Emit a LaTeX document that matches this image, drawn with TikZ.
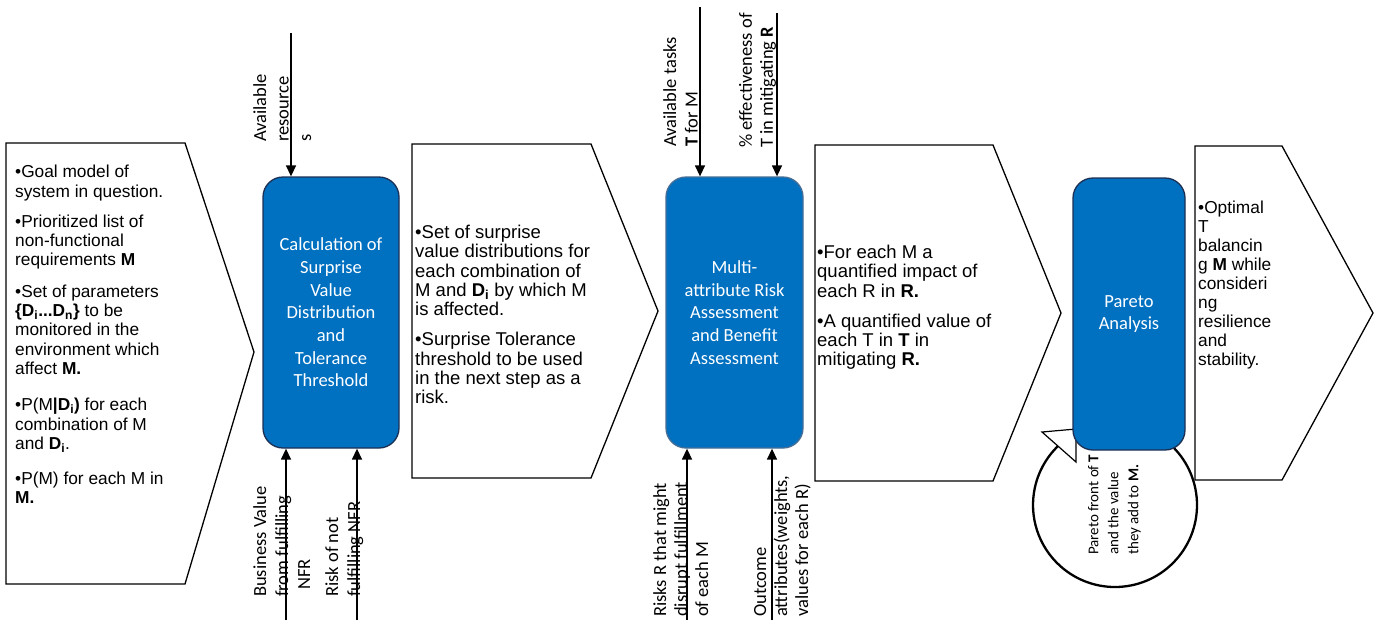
\documentclass[tikz,border=0pt]{standalone}
\usepackage{fontspec}
\setmainfont{Liberation Sans}
\newfontfamily\calfont{Carlito}
\usetikzlibrary{arrows.meta}
\definecolor{boxblue}{RGB}{0,112,192}
\definecolor{boxedge}{RGB}{28,48,86}
\definecolor{boxedgeb}{RGB}{70,110,150}
\newcommand\tightls{\lineskiplimit-20pt\relax}
\begin{document}
\begin{tikzpicture}[x=1pt,y=-1pt,
  chev/.style={draw=black, line width=1.3pt, fill=white, line join=miter},
  proc/.style={draw=boxedge, line width=1.3pt, fill=boxblue, rounded corners=20pt,
    minimum width=136pt, minimum height=271pt, text=white, align=center, inner sep=0pt,
    font=\calfont\fontsize{18.5}{22.7}\selectfont},
  lbl/.style={rotate=90, anchor=north west, align=left, inner sep=0pt,
    font=\calfont\fontsize{18.5}{22.5}\selectfont},
  ctext/.style={anchor=north west, align=left, inner sep=0pt},
  flow/.style={line width=1.4pt, -{Triangle[length=11pt,width=10pt]}}
]
\fill[white] (0,0) rectangle (1379,627);
\useasboundingbox (0,0) rectangle (1379,627);

% chevrons
\draw[chev] (6,143) -- (185,143) -- (254,352) -- (185,584) -- (6,584) -- cycle;
\draw[chev] (412,144) -- (591,144) -- (658,311) -- (591,478) -- (412,478) -- cycle;
\draw[chev] (815,145) -- (993,145) -- (1061,313) -- (993,481) -- (815,481) -- cycle;
\draw[chev] (1195,146) -- (1282,146) -- (1373,313) -- (1282,480) -- (1195,480) -- cycle;

% chevron texts
\node[ctext, font={\fontsize{17.3}{19.3}\selectfont\tightls}] (in1) at (15,165) {%
•Goal model of\\
system in question.\\[10.7pt]
•Prioritized list of\\
non-functional\\
requirements \textbf{M}\\[12.4pt]
•Set of parameters\\
\textbf{\{D\textsubscript{i}...D\textsubscript{n}\}} to be\\
monitored in the\\
environment which\\
affect \textbf{M.}\\[17pt]
•P(M\textbf{|D\textsubscript{i})} for each\\
combination of M\\
and \textbf{D\textsubscript{i}}.\\[15.7pt]
•P(M) for each M in\\
\textbf{M.}};

\node[ctext, font={\fontsize{18.5}{19.3}\selectfont\tightls}] (out1) at (415,225) {%
•Set of surprise\\
value distributions for\\
each combination of\\
M and \textbf{D\textsubscript{i}} by which M\\
is affected.\\[10.7pt]
•Surprise Tolerance\\
threshold to be used\\
in the next step as a\\
risk.};

\node[ctext, font={\fontsize{18.5}{19.3}\selectfont\tightls}] (out2) at (817,245) {%
•For each M a\\
quantified impact of\\
each R in \textbf{R.}\\[10.7pt]
•A quantified value of\\
each T in \textbf{T} in\\
mitigating \textbf{R.}};

\node[ctext, font={\fontsize{17.3}{19}\selectfont\tightls}] (out3) at (1198,201) {%
•Optimal\\
T\\
balancin\\
g \textbf{M} while\\
consideri\\
ng\\
resilience\\
and\\
stability.};

% rotated labels
\node[lbl] (lres) at (253,142) {Available\\resource\\s};
\node[lbl, font=\calfont\fontsize{18.5}{22}\selectfont] (lbv) at (253,597) {Business Value\\from fulfilling\\\hspace*{7pt}NFR};
\node[lbl, font=\calfont\fontsize{18.5}{22}\selectfont] (lrisk) at (325,597) {Risk of not\\fulfilling NFR};
\node[lbl, font=\calfont\fontsize{18.5}{21.5}\selectfont] (ltask) at (663,147) {Available tasks\\\textbf{T} for M};
\node[lbl, font=\calfont\fontsize{18.5}{21}\selectfont] (leff) at (739,148) {\% effectiveness of\\T in mitigating \textbf{R}};
\node[lbl, font=\calfont\fontsize{18.5}{21}\selectfont] (lrr) at (653,617) {Risks R that might\\disrupt fulfillment\\of each M};
\node[lbl, font=\calfont\fontsize{18.5}{21}\selectfont] (lout) at (754,617) {Outcome\\attributes(weights,\\values for each R)};

% circular arrow
\coordinate (cc) at (1115,505);
\draw[line width=2.3pt] (cc) ++(-48:82) arc[start angle=-48, end angle=226, radius=82];
\draw[line width=1.2pt, fill=white, line join=miter] (1042,432) -- (1076,429) -- (1076,462) -- cycle;
\node[lbl, font=\calfont\fontsize{15}{20}\selectfont] (lpar) at (1088,555) {Pareto front of \textbf{T}\\and the value\\they add to \textbf{M.}};

% process boxes
\node[proc] (calc) at (331,312.5) {Calculation of\\Surprise\\Value\\Distribution\\and\\Tolerance\\Threshold};
\node[proc, draw=boxedgeb, minimum width=137pt] (mara) at (734.5,312.5) {Multi-\\attribute Risk\\Assessment\\and Benefit\\Assessment};
\node[proc, minimum width=112pt, minimum height=272pt] (pareto) at (1129,314) {Pareto\\Analysis};

% input arrows
\coordinate (s1) at (291,33);
\coordinate (s2) at (286,620);
\coordinate (s3) at (357,620);
\coordinate (s4) at (700,7);
\coordinate (s5) at (777,13);
\coordinate (s6) at (687,620);
\coordinate (s7) at (772,620);
\draw[flow] (s1) -- (s1 |- calc.north);
\draw[flow] (s2) -- (s2 |- calc.south);
\draw[flow] (s3) -- (s3 |- calc.south);
\draw[flow] (s4) -- (s4 |- mara.north);
\draw[flow] (s5) -- (s5 |- mara.north);
\draw[flow] (s6) -- (s6 |- mara.south);
\draw[flow] (s7) -- (s7 |- mara.south);
\end{tikzpicture}
\end{document}
